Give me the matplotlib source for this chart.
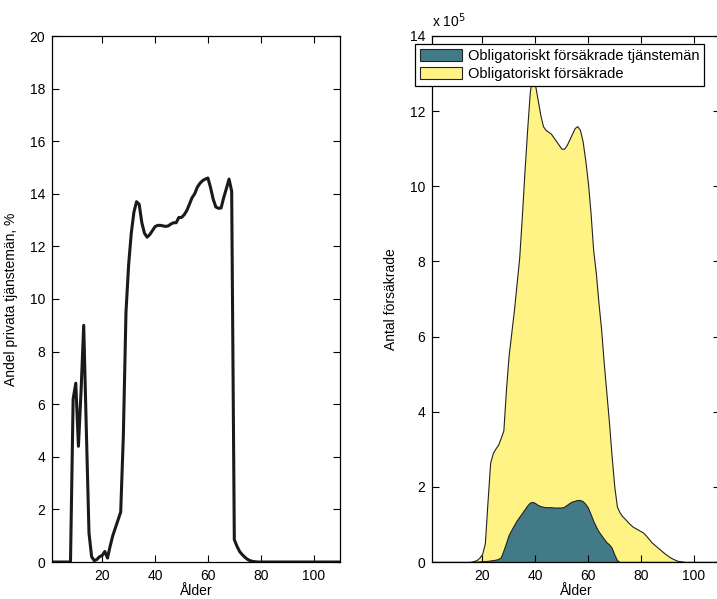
import numpy as np
import matplotlib
matplotlib.use("Agg")
import matplotlib.pyplot as plt
from matplotlib.ticker import FuncFormatter, MultipleLocator

plt.rcParams['font.family'] = ['Liberation Sans', 'DejaVu Sans']

# ---------------- data ----------------
ages = list(range(1, 111))

# Left: share of private salaried employees (%), ages 1..110
share_pct = ([0.0] * 8 +
             [6.2, 6.8, 4.4, 6.5, 9.0, 5.0, 1.1, 0.2, 0.05, 0.1, 0.2, 0.25,   # 9-20
              0.4, 0.15, 0.6, 1.0, 1.3, 1.6, 1.9, 4.8, 9.5, 11.3,            # 21-30
              12.5, 13.3, 13.7, 13.6, 12.9, 12.5, 12.35, 12.45, 12.6, 12.75,  # 31-40
              12.8, 12.8, 12.78, 12.76, 12.78, 12.85, 12.9, 12.9, 13.1, 13.1, # 41-50
              13.2, 13.36, 13.6, 13.85, 14.0, 14.25, 14.4, 14.5, 14.56, 14.6, # 51-60
              14.24, 13.8, 13.5, 13.45, 13.46, 13.86, 14.2, 14.56, 14.1, 0.85,# 61-70
              0.6, 0.4, 0.28, 0.18, 0.1, 0.05, 0.02, 0.01, 0.0, 0.0] +        # 71-80
             [0.0] * 30)                                                     # 81-110

# Right: number insured (units of 1e5), ages 1..110
insured_all = ([0.0] * 15 +
               [0.01, 0.03, 0.06, 0.12, 0.22,                                  # 16-20
                0.5, 1.6, 2.64, 2.9, 3.02, 3.12, 3.3, 3.5, 4.6, 5.5,            # 21-30
                6.1, 6.7, 7.4, 8.1, 9.2, 10.4, 11.5, 12.5, 13.0, 12.7,          # 31-40
                12.3, 11.9, 11.6, 11.5, 11.45, 11.4, 11.3, 11.2, 11.1, 11.0,    # 41-50
                11.0, 11.1, 11.25, 11.4, 11.55, 11.6, 11.5, 11.2, 10.7, 10.1,   # 51-60
                9.3, 8.3, 7.7, 6.9, 6.2, 5.3, 4.5, 3.7, 2.8, 2.0,               # 61-70
                1.47, 1.32, 1.22, 1.15, 1.07, 1.0, 0.94, 0.9, 0.86, 0.82,       # 71-80
                0.78, 0.7, 0.62, 0.53, 0.47, 0.41, 0.35, 0.29, 0.23, 0.18,      # 81-90
                0.13, 0.09, 0.06, 0.03, 0.02, 0.01] +                          # 91-96
               [0.0] * 14)                                                     # 97-110

insured_salaried = ([0.0] * 16 +
                    [0.005, 0.01, 0.015, 0.02,                                 # 17-20
                     0.025, 0.03, 0.04, 0.05, 0.06, 0.08, 0.12, 0.3, 0.5, 0.72, # 21-30
                     0.85, 0.98, 1.1, 1.2, 1.3, 1.4, 1.5, 1.58, 1.6, 1.57,      # 31-40
                     1.52, 1.49, 1.47, 1.46, 1.46, 1.46, 1.45, 1.45, 1.45, 1.45,# 41-50
                     1.47, 1.52, 1.57, 1.61, 1.63, 1.65, 1.65, 1.62, 1.55, 1.45,# 51-60
                     1.28, 1.1, 0.95, 0.82, 0.72, 0.62, 0.53, 0.47, 0.38, 0.2,  # 61-70
                     0.05] +                                                   # 71
                    [0.0] * 39)                                                # 72-110

SCALE = 1e5
xlabel = "Ålder"
ylabel_left = "Andel privata tjänstemän, %"
ylabel_right = "Antal försäkrade"
legend_labels = ["Obligatoriskt försäkrade tjänstemän", "Obligatoriskt försäkrade"]

teal = "#427a87"
yellow = "#fff385"

# ---------------- figure ----------------
W, H = 717, 599
fig = plt.figure(figsize=(W / 100, H / 100), dpi=100)

def px_axes(l, r, t, b):
    return fig.add_axes([l / W, 1 - b / H, (r - l) / W, (b - t) / H])

FS = 10

def style(ax):
    ax.tick_params(direction='in', top=True, right=True, length=5, width=0.8,
                   labelsize=FS, pad=5, colors='black')
    for s in ax.spines.values():
        s.set_linewidth(0.9)
        s.set_color('black')

# Left axes
ax1 = px_axes(52, 340, 36, 562)
ax1.plot(ages, share_pct, color='#1a1a1a', lw=2.2, solid_joinstyle='round')
ax1.set_xlim(1, 110)
ax1.set_ylim(0, 20)
ax1.xaxis.set_major_locator(MultipleLocator(20))
ax1.yaxis.set_major_locator(MultipleLocator(2))
ax1.set_xlabel(xlabel, fontsize=FS, labelpad=1)
ax1.set_ylabel(ylabel_left, fontsize=FS, labelpad=8)
style(ax1)

# Right axes
ax2 = px_axes(432, 720, 36, 562)
tot = np.array(insured_all) * SCALE
sal = np.array(insured_salaried) * SCALE
h_all = ax2.fill_between(ages, 0, tot, facecolor=yellow, edgecolor='#222222', lw=0.8)
h_sal = ax2.fill_between(ages, 0, sal, facecolor=teal, edgecolor='#222222', lw=0.8)
ax2.set_xlim(1, 110)
ax2.set_ylim(0, 14 * SCALE)
ax2.xaxis.set_major_locator(MultipleLocator(20))
ax2.yaxis.set_major_locator(MultipleLocator(2 * SCALE))
ax2.yaxis.set_major_formatter(FuncFormatter(lambda v, p: f"{v / SCALE:g}"))
ax2.set_xlabel(xlabel, fontsize=FS, labelpad=1)
ax2.set_ylabel(ylabel_right, fontsize=FS, labelpad=8)
style(ax2)
ax2.text(0.0, 1.012, r"x 10$^5$", transform=ax2.transAxes, fontsize=FS,
         ha='left', va='bottom')

leg = fig.legend([h_sal, h_all], legend_labels, loc='upper left',
                 bbox_to_anchor=(415 / W, 1 - 44 / H), bbox_transform=fig.transFigure,
                 fontsize=10.5, frameon=True, fancybox=False, shadow=False,
                 borderaxespad=0, borderpad=0.35, handlelength=2.9, handleheight=0.9,
                 handletextpad=0.35, labelspacing=0.25, framealpha=1)
leg.get_frame().set_edgecolor('black')
leg.get_frame().set_linewidth(0.9)

fig.savefig("out.png", dpi=100)
